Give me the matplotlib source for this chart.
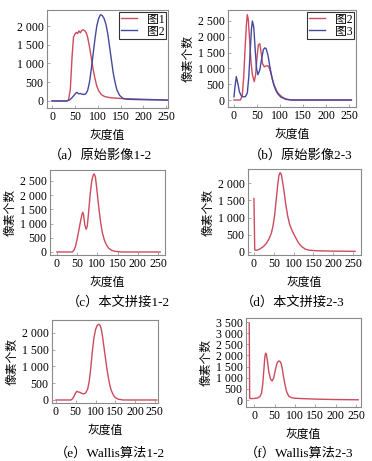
"""Gray-level histograms of the original and mosaicked images."""

import matplotlib
matplotlib.use("Agg")
import matplotlib.pyplot as plt

plt.rcParams["font.family"] = ["Liberation Serif", "Noto Sans CJK SC"]
plt.rcParams["font.size"] = 8

RED = "#cc4b5c"
BLUE = "#4449a0"

# (a) original images 1-2
a_x1 = [0, 30, 36, 40, 44, 47, 50, 53, 56, 59, 62, 65, 68, 72, 75, 78, 82, 86, 90, 94,
        98, 102, 108, 115, 122, 130, 140, 160, 200, 240, 255]
a_y1 = [0, 0, 20, 300, 1200, 1700, 1780, 1830, 1800, 1870, 1820, 1880, 1900, 1870, 1820,
        1700, 1450, 1150, 850, 600, 400, 280, 170, 120, 100, 85, 75, 60, 45, 30, 20]
a_x2 = [0, 33, 40, 46, 52, 55, 58, 62, 66, 70, 74, 78, 82, 86, 90, 94, 98, 102, 106, 110,
        114, 118, 122, 126, 130, 134, 138, 142, 148, 155, 165, 200, 255]
a_y2 = [0, 0, 40, 120, 210, 230, 190, 200, 180, 175, 190, 280, 500, 850, 1250, 1650,
        2000, 2200, 2300, 2280, 2200, 2050, 1800, 1450, 1100, 750, 500, 300, 150, 70,
        45, 35, 25]

# (b) original images 2-3
b_x1 = [0, 14, 18, 21, 24, 27, 29, 31, 34, 37, 40, 44, 47, 50, 53, 56, 59, 62, 66, 70,
        74, 77, 80, 84, 88, 93, 98, 105, 113, 125, 255]
b_y1 = [0, 0, 150, 700, 1600, 2400, 2700, 2550, 1900, 1200, 800, 580, 800, 1350, 1750,
        1780, 1500, 1150, 1050, 1080, 1080, 1000, 850, 620, 450, 280, 180, 90, 30, 0, 0]
b_x2 = [0, 2, 5, 8, 12, 16, 20, 25, 29, 32, 35, 38, 40, 43, 46, 49, 52, 56, 60, 64, 67,
        70, 74, 78, 82, 86, 91, 96, 102, 113, 125, 255]
b_y2 = [100, 400, 740, 550, 250, 130, 100, 110, 230, 700, 1500, 2250, 2500, 2300, 1600,
        1000, 800, 950, 1300, 1600, 1650, 1620, 1400, 1050, 750, 500, 300, 180, 90, 20,
        0, 0]

# (c) this paper, mosaic 1-2
c_x = [0, 38, 42, 46, 50, 54, 58, 62, 64, 66, 69, 72, 75, 78, 82, 86, 90, 92, 95, 98,
       101, 104, 108, 112, 117, 122, 128, 135, 145, 160, 255]
c_y = [0, 0, 60, 200, 450, 750, 1050, 1330, 1400, 1300, 950, 800, 900, 1350, 2000, 2500,
       2720, 2750, 2650, 2300, 1900, 1500, 1050, 700, 430, 260, 130, 60, 20, 0, 0]

# (d) this paper, mosaic 2-3
d_x = [0, 2, 6, 12, 18, 25, 32, 38, 44, 48, 52, 56, 60, 63, 66, 69, 72, 76, 80, 85, 90,
       95, 100, 106, 112, 120, 130, 140, 160, 200, 255]
d_y = [1550, 60, 50, 70, 110, 170, 260, 380, 550, 750, 1050, 1500, 1950, 2220, 2300,
       2250, 2050, 1750, 1400, 1050, 800, 650, 530, 400, 270, 160, 80, 50, 35, 25, 20]

# (e) Wallis, 1-2
e_x = [0, 38, 42, 46, 50, 53, 56, 60, 65, 70, 75, 80, 84, 88, 92, 96, 100, 104, 108,
       111, 114, 117, 120, 124, 128, 132, 136, 140, 145, 150, 157, 170, 255]
e_y = [0, 0, 40, 120, 220, 260, 240, 230, 200, 180, 210, 320, 550, 950, 1450, 1850,
       2100, 2220, 2260, 2240, 2150, 1950, 1700, 1350, 1000, 700, 450, 280, 150, 70, 25,
       0, 0]

# (f) Wallis, 2-3
f_x = [-12, -11, -8, 0, 8, 14, 18, 21, 24, 26, 28, 30, 33, 36, 40, 44, 48, 52, 56, 60,
       63, 66, 69, 72, 76, 80, 85, 92, 100, 120, 150, 200, 255]
f_y = [3450, 80, 60, 70, 90, 150, 300, 700, 1400, 1900, 2100, 2050, 1700, 1250, 950,
       850, 1000, 1350, 1650, 1750, 1740, 1650, 1400, 1050, 650, 350, 170, 100, 80, 60,
       40, 20, 10]

x_ticks = [0, 50, 100, 150, 200, 250]

TICK_SIZE = 8.5
LABEL_SIZE = 8.5
CAPTION_SIZE = 9.5


def thousands(values):
    return [f"{v:,}".replace(",", " ") for v in values]


def style_axes(ax, xlim, ylim, yticks):
    ax.set_xlim(*xlim)
    ax.set_ylim(*ylim)
    ax.set_xticks(x_ticks)
    ax.set_yticks(yticks)
    ax.set_yticklabels(thousands(yticks))
    for spine in ax.spines.values():
        spine.set_color("#8a8a8a")
        spine.set_linewidth(0.8)
    ax.tick_params(direction="in", length=2, width=0.5, color="#8a8a8a", pad=2.5,
                   labelsize=TICK_SIZE)
    ax.set_xlabel("灰度值", fontsize=LABEL_SIZE, labelpad=4,
                  family=["Noto Sans CJK SC"])


def add_legend(ax):
    leg = ax.legend(loc="upper right", frameon=True, fancybox=False, fontsize=8.5,
                    borderaxespad=0.15, handlelength=1.4, handletextpad=0.8,
                    borderpad=0.15, labelspacing=0.0)
    leg.get_frame().set_edgecolor("black")
    leg.get_frame().set_linewidth(0.8)


def caption(x, y, text):
    fig.text(x / W, 1 - y / H, text, ha="center", va="center", fontsize=CAPTION_SIZE)


def ylabel(ax):
    ax.set_ylabel("像素个数", fontsize=LABEL_SIZE, labelpad=2,
                  family=["Noto Sans CJK SC"])


fig = plt.figure(figsize=(3.72, 4.61), dpi=100)
W, H = 372, 461


def add_axes(left, top, right, bottom):
    return fig.add_axes([left / W, 1 - bottom / H, (right - left) / W, (bottom - top) / H])


# panel (a)
ax = add_axes(47, 10, 168, 108)
ax.plot(a_x1, a_y1, color=RED, lw=1, label="图1")
ax.plot(a_x2, a_y2, color=BLUE, lw=1, label="图2")
style_axes(ax, (-11, 254), (-187, 2427), [0, 500, 1000, 1500, 2000])
add_legend(ax)
caption(100, 155, "（a）原始影像1-2")

# panel (b)
ax = add_axes(228, 10, 356, 107)
ax.plot(b_x1, b_y1, color=RED, lw=1, label="图2")
ax.plot(b_x2, b_y2, color=BLUE, lw=1, label="图3")
style_axes(ax, (-13, 265), (-221, 2848), [0, 500, 1000, 1500, 2000, 2500])
ylabel(ax)
add_legend(ax)
caption(301, 155, "（b）原始影像2-3")

# panel (c)
ax = add_axes(50, 170, 165, 255)
ax.plot(c_x, c_y, color=RED, lw=1)
style_axes(ax, (-17, 267), (-106, 2887), [0, 500, 1000, 1500, 2000, 2500])
ylabel(ax)
caption(118, 302, "（c）本文拼接1-2")

# panel (d)
ax = add_axes(248, 169, 361, 255)
ax.plot(d_x, d_y, color=RED, lw=1)
style_axes(ax, (-15, 270), (-87, 2406), [0, 500, 1000, 1500, 2000])
ylabel(ax)
caption(293, 302, "（d）本文拼接2-3")

# panel (e)
ax = add_axes(52, 320, 158, 403)
ax.plot(e_x, e_y, color=RED, lw=1)
style_axes(ax, (-10, 258), (-90, 2388), [0, 500, 1000, 1500, 2000])
ylabel(ax)
caption(110, 453, "（e）Wallis算法1-2")

# panel (f)
ax = add_axes(246, 318, 361, 407)
ax.plot(f_x, f_y, color=RED, lw=1)
style_axes(ax, (-20, 262), (-314, 3680),
           [0, 500, 1000, 1500, 2000, 2500, 3000, 3500])
ylabel(ax)
caption(299, 453, "（f）Wallis算法2-3")

fig.savefig("out.png", dpi=100)
